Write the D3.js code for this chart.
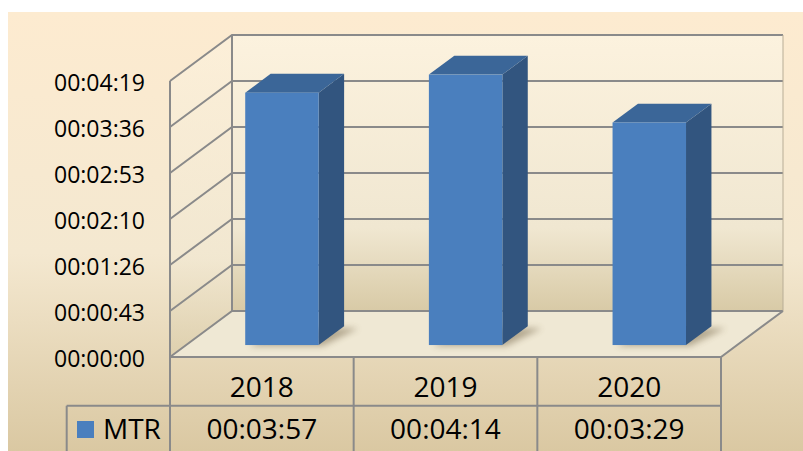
<!DOCTYPE html>
<html>
<head>
<meta charset="utf-8">
<script src="https://cdn.jsdelivr.net/npm/d3@7"></script>
<style>
  html, body { margin: 0; padding: 0; background: #fff; }
  svg text { font-family: "Open Sans", sans-serif; fill: #000; }
</style>
</head>
<body>
<div id="chart"></div>
<script>
// Data (seconds)
const years = ["2018", "2019", "2020"];
const mtr = [237, 254, 209];
const seriesName = "MTR";
const tickValues = [0, 43.2, 86.4, 129.6, 172.8, 216, 259.2];

const fmt = s => {
    s = Math.round(s);
    const p = n => String(n).padStart(2, "0");
    return p(Math.floor(s / 3600)) + ":" + p(Math.floor(s / 60) % 60) + ":" + p(s % 60);
};

const W = 803, H = 451;
const plotLeft = 170, plotRight = 721, plotBottom = 357, plotTop = 81;
const depth = { x: 62, y: -46 };
const front = 0.26, back = 0.67; // bar depth placement (fraction of floor depth)

const svg = d3.select("#chart").append("svg")
    .attr("width", W).attr("height", H);

const defs = svg.append("defs");
const bg = defs.append("linearGradient").attr("id", "bg")
    .attr("x1", 0).attr("y1", 0).attr("x2", 0).attr("y2", 1);
bg.append("stop").attr("offset", "0%").attr("stop-color", "#fdebd0");
bg.append("stop").attr("offset", "55%").attr("stop-color", "#f4e8d0");
bg.append("stop").attr("offset", "100%").attr("stop-color", "#dac8a2");

const wall = defs.append("linearGradient").attr("id", "wall")
    .attr("x1", 0).attr("y1", 0).attr("x2", 0).attr("y2", 1);
wall.append("stop").attr("offset", "0%").attr("stop-color", "#fcf2de");
wall.append("stop").attr("offset", "70%").attr("stop-color", "#f0e7d1");
wall.append("stop").attr("offset", "100%").attr("stop-color", "#d8caa6");

const blur = defs.append("filter").attr("id", "blur")
    .attr("x", "-50%").attr("y", "-50%").attr("width", "200%").attr("height", "200%");
blur.append("feGaussianBlur").attr("stdDeviation", 3);

// Chart background
svg.append("rect").attr("x", 8).attr("y", 12).attr("width", W - 8).attr("height", H - 12)
    .attr("fill", "url(#bg)");

const x = d3.scaleBand().domain(years).range([plotLeft, plotRight]);
const y = d3.scaleLinear().domain([0, 259.2]).range([plotBottom, plotTop]);

const y0 = y(0), yMax = y(259.2);
const bx = plotLeft + depth.x, rx = plotRight + depth.x;

// Back wall and side wall
svg.append("rect").attr("x", bx).attr("y", yMax + depth.y)
    .attr("width", rx - bx).attr("height", y0 - yMax)
    .attr("fill", "url(#wall)");
svg.append("polygon")
    .attr("points", [[plotLeft, yMax], [bx, yMax + depth.y], [bx, y0 + depth.y], [plotLeft, y0]].join(" "))
    .attr("fill", "url(#wall)").attr("opacity", 0.6);

// Floor
svg.append("polygon")
    .attr("points", [[plotLeft, y0], [plotRight, y0], [rx, y0 + depth.y], [bx, y0 + depth.y]].join(" "))
    .attr("fill", "#efe8d4");

const lineColor = "#8a8a8a";
const grid = svg.append("g").attr("stroke", lineColor).attr("stroke-width", 2).attr("fill", "none");

// Gridlines on side and back walls
tickValues.forEach(v => {
    const yy = y(v);
    grid.append("polyline")
        .attr("points", [[plotLeft, yy], [bx, yy + depth.y], [rx, yy + depth.y]].join(" "));
});
grid.append("line").attr("x1", plotLeft).attr("x2", plotLeft).attr("y1", yMax).attr("y2", y0);
grid.append("line").attr("x1", bx).attr("x2", bx).attr("y1", yMax + depth.y).attr("y2", y0 + depth.y);
grid.append("line").attr("x1", rx).attr("x2", rx).attr("y1", yMax + depth.y).attr("y2", y0 + depth.y)
    .attr("stroke", "#b8ad96").attr("stroke-width", 1);
grid.append("polyline")
    .attr("points", [[plotLeft, y0], [plotRight, y0], [rx, y0 + depth.y]].join(" "));

// Bars
const bw = x.bandwidth() * 0.4;
const bars = svg.append("g");
years.forEach((yr, i) => {
    const fx = x(yr) + (x.bandwidth() - bw) / 2 + front * depth.x + 4;
    const fy = y0 + front * depth.y;
    const dx = (back - front) * depth.x, dy = (back - front) * depth.y;
    const h = y0 - y(mtr[i]);
    const t = fy - h;
    // shadow
    bars.append("polygon")
        .attr("points", [[fx + 4, fy + 1], [fx + bw + 4, fy + 1], [fx + bw + dx + 14, fy + dy + 2], [fx + dx + 8, fy + dy + 2]].join(" "))
        .attr("fill", "#6b5a3a").attr("opacity", 0.45).attr("filter", "url(#blur)");
    // side
    bars.append("polygon")
        .attr("points", [[fx + bw, t], [fx + bw + dx, t + dy], [fx + bw + dx, fy + dy], [fx + bw, fy]].join(" "))
        .attr("fill", "#32557f");
    // top
    bars.append("polygon")
        .attr("points", [[fx, t], [fx + bw, t], [fx + bw + dx, t + dy], [fx + dx, t + dy]].join(" "))
        .attr("fill", "#3b6698");
    // front
    bars.append("rect").attr("x", fx).attr("y", t).attr("width", bw).attr("height", h)
        .attr("fill", "#4a7fbe");
});

// Y axis labels
const yAxis = d3.axisLeft(y).tickValues(tickValues).tickFormat(fmt).tickSize(0).tickPadding(0);
const ga = svg.append("g").attr("transform", "translate(145,2)").call(yAxis);
ga.select(".domain").remove();
ga.selectAll("text").style("font-size", "23px").attr("fill", "#000");

// Data table
const rowMid = 405.7, rowEnd = 460;
const tbl = svg.append("g").attr("stroke", lineColor).attr("stroke-width", 2).attr("fill", "none");
tbl.append("line").attr("x1", 66.7).attr("x2", plotRight).attr("y1", rowMid).attr("y2", rowMid);
tbl.append("line").attr("x1", 66.7).attr("x2", 66.7).attr("y1", rowMid).attr("y2", rowEnd);
tbl.append("line").attr("x1", plotLeft).attr("x2", plotLeft).attr("y1", y0).attr("y2", rowEnd);
years.forEach(yr => {
    const xe = x(yr) + x.bandwidth();
    tbl.append("line").attr("x1", xe).attr("x2", xe).attr("y1", y0).attr("y2", rowEnd);
});

svg.append("g").selectAll("text").data(years).join("text")
    .attr("x", d => x(d) + x.bandwidth() / 2).attr("y", 397)
    .attr("text-anchor", "middle").style("font-size", "28px").text(d => d);

svg.append("g").selectAll("text").data(mtr).join("text")
    .attr("x", (d, i) => x(years[i]) + x.bandwidth() / 2).attr("y", 439)
    .attr("text-anchor", "middle").style("font-size", "28px").text(d => fmt(d));

svg.append("rect").attr("x", 77).attr("y", 421).attr("width", 17).attr("height", 17).attr("fill", "#4a7fbe");
svg.append("text").attr("x", 103).attr("y", 439).style("font-size", "28px").text(seriesName);
</script>
</body>
</html>
